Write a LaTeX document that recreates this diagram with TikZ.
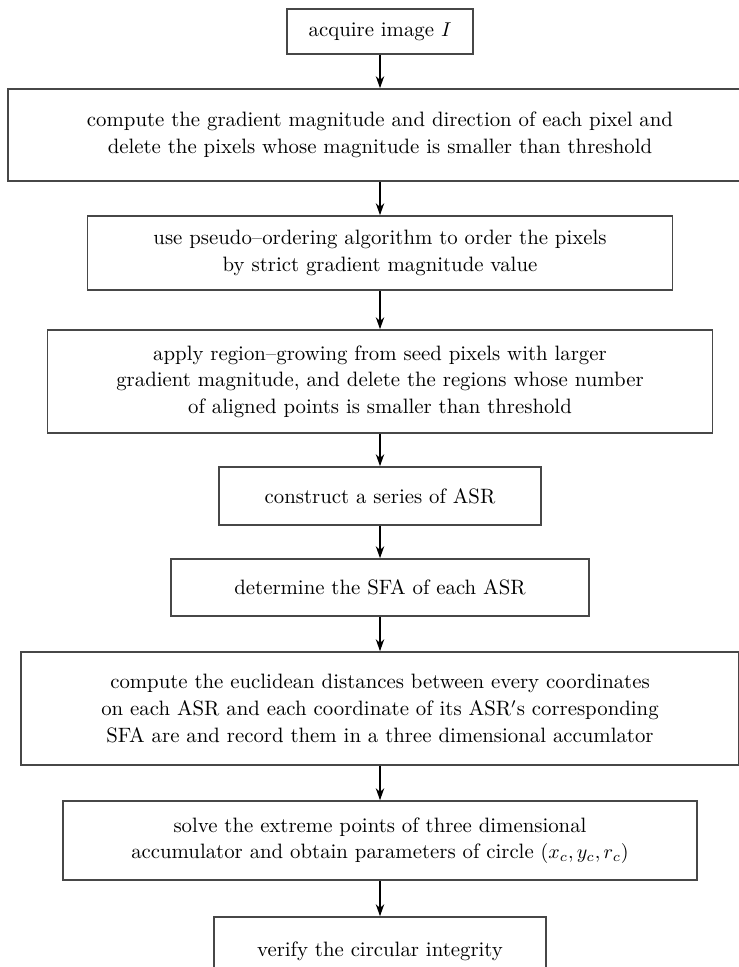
\documentclass[tikz,border=0pt]{standalone}
\usepackage{amsmath}
\usepackage{tikz}
\usetikzlibrary{arrows.meta}

\begin{document}
\begin{tikzpicture}[x=0.5pt,y=-0.5pt,->,>={Stealth[length=6pt,width=4.2pt]},line width=0.7pt]
                \tikzstyle{stage}=[draw=black!72,line width=0.8pt,align=center,inner sep=1pt,
                        font=\fontsize{10.4}{13.3}\selectfont]
                \useasboundingbox (0,0) rectangle (738,967);

                \node[stage,minimum width=93pt, minimum height=22.5pt] (acq)  at (380,31.5)  {acquire image $I$};
                \node[stage,minimum width=372pt,minimum height=46pt]   (grad) at (380,135)   {compute the gradient magnitude and direction of each pixel and\\
                        delete the pixels whose magnitude is smaller than threshold};
                \node[stage,minimum width=292.5pt,minimum height=37pt] (ord)  at (380,253)   {use pseudo--ordering algorithm to order the pixels\\
                        by strict gradient magnitude value};
                \node[stage,minimum width=332.5pt,minimum height=51.5pt] (grow) at (380,381.5) {apply region--growing from seed pixels with larger\\
                        gradient magnitude, and delete the regions whose number\\
                        of aligned points is smaller than threshold};
                \node[stage,minimum width=161pt, minimum height=29pt]  (asr)  at (380,496)   {construct a series of ASR};
                \node[stage,minimum width=209pt, minimum height=28.5pt] (sfa) at (380,587.5) {determine the SFA of each ASR};
                \node[stage,minimum width=359pt, minimum height=56.5pt] (dist) at (380,708.5) {compute the euclidean distances between every coordinates\\
                        on each ASR and each coordinate of its ASR$'$s corresponding\\
                        SFA are and record them in a three dimensional accumlator};
                \node[stage,minimum width=317pt, minimum height=39.5pt] (ext)  at (380,840.5) {solve the extreme points of three dimensional\\
                        accumulator and obtain parameters of circle $(x_{c},y_{c},r_{c})$};
                \node[stage,minimum width=166pt, minimum height=34pt]  (ver)  at (380,951)   {verify the circular integrity};

                \path   (acq)  edge (grad)
                        (grad) edge (ord)
                        (ord)  edge (grow)
                        (grow) edge (asr)
                        (asr)  edge (sfa)
                        (sfa)  edge (dist)
                        (dist) edge (ext)
                        (ext)  edge (ver);
\end{tikzpicture}
\end{document}
